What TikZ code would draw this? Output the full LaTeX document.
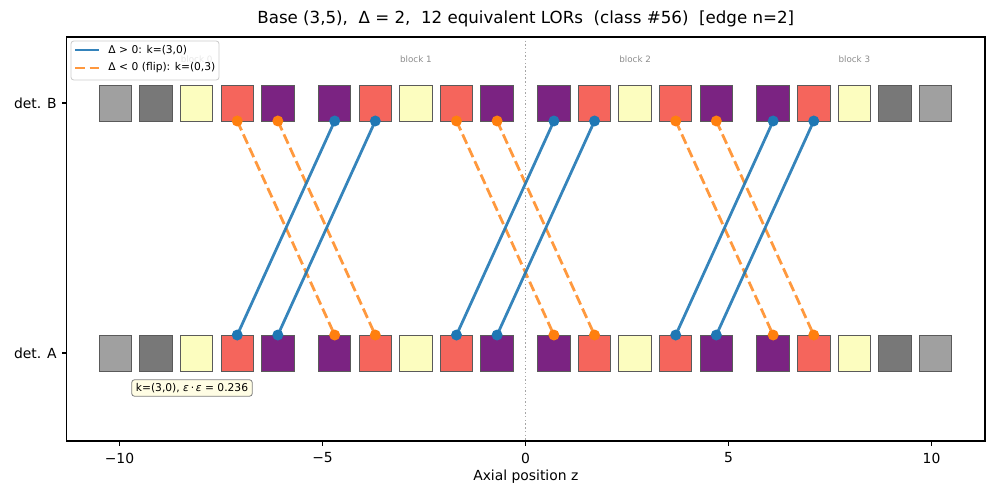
\documentclass[tikz,border=0pt]{standalone}
\usepackage{fontspec}
\setmainfont{DejaVu Sans}
\definecolor{lg}{HTML}{A0A0A0}
\definecolor{dg}{HTML}{787878}
\definecolor{cy}{HTML}{FCFDBF}
\definecolor{cs}{HTML}{F5655C}
\definecolor{cp}{HTML}{7B2382}
\definecolor{edgegray}{HTML}{5A5A5A}
\definecolor{mblue}{HTML}{1F77B4}
\definecolor{morange}{HTML}{FF7F0E}
\definecolor{annofill}{HTML}{FFFDE4}
\begin{document}
\begin{tikzpicture}[x=0.72pt,y=-0.72pt,
  crystal/.style={draw=edgegray, line width=0.7pt, minimum width=23.4pt, minimum height=25.9pt, inner sep=0pt, outer sep=0pt},
  lorpos/.style={mblue, opacity=0.9, line width=2pt},
  lorneg/.style={morange, opacity=0.8, line width=2pt, dash pattern=on 7.4pt off 3.2pt},
  dotpos/.style={fill=mblue},
  dotneg/.style={fill=morange},
  blocklabel/.style={text=gray!90, font=\fontsize{6.3}{7}\selectfont, inner sep=0pt},
  ticklabel/.style={font=\fontsize{10}{12}\selectfont, inner sep=0pt},
  legtext/.style={font=\fontsize{7.7}{9}\selectfont, inner sep=0pt, anchor=west},
  tickmark/.style={line width=0.8pt}]
\useasboundingbox (0,0) rectangle (1000,500);
% vertical dotted zero line
\coordinate (zt) at (525.5,37);
\coordinate (zb) at (525.5,441);
\draw[gray!70, line width=1pt, dash pattern=on 1pt off 1.65pt] (zt) -- (zb);
% crystals
\foreach \i/\col in {0/lg,1/dg,2/cy,3/cs,4/cp,5/cp,6/cs,7/cy,8/cs,9/cp,10/cp,11/cs,12/cy,13/cs,14/cp,15/cp,16/cs,17/cy,18/dg,19/lg}{
  \pgfmathtruncatemacro\bk{int(\i/5)}
  \pgfmathtruncatemacro\cc{\i-5*\bk}
  \pgfmathsetmacro\px{525.5+40.6*(-10.1+5.4*\bk+\cc)}
  \node[crystal, fill=\col] (B\i) at (\px,103) {};
  \node[crystal, fill=\col] (A\i) at (\px,353) {};
}
% block labels
\foreach \bk in {0,1,2,3}{
  \pgfmathsetmacro\px{525.5+40.6*(-8.1+5.4*\bk)}
  \node[blocklabel] (blk\bk) at (\px,59) {block \bk};
}
% LORs with Delta < 0 (flip)
\foreach \a/\b in {3/5,4/6,8/10,9/11,13/15,14/16}{
  \draw[lorneg] (B\a.south) -- (A\b.north);
  \fill[dotneg] (B\a.south) circle (5.5);
  \fill[dotneg] (A\b.north) circle (5.5);
}
% LORs with Delta > 0
\foreach \a/\b in {3/5,4/6,8/10,9/11,13/15,14/16}{
  \draw[lorpos] (A\a.north) -- (B\b.south);
  \fill[dotpos] (A\a.north) circle (5.5);
  \fill[dotpos] (B\b.south) circle (5.5);
}
% axes frame
\draw[line width=0.8pt] (66.5,37) rectangle (985,441);
% x ticks
\foreach \v/\lab in {-10/−10,-5/−5,0/0,5/5,10/10}{
  \pgfmathsetmacro\px{525.5+40.6*\v}
  \draw[tickmark] (\px,441) -- (\px,446);
  \node[ticklabel] (xt\v) at (\px,458) {\lab};
}
% y ticks
\draw[tickmark] (66.5,103) -- (61.5,103);
\draw[tickmark] (66.5,353) -- (61.5,353);
\node[ticklabel, anchor=east] (ytB) at (57,103) {det. B};
\node[ticklabel, anchor=east] (ytA) at (57,353) {det. A};
% labels
\node[ticklabel] (xlabel) at (525.8,477) {Axial position z};
\node[font=\fontsize{12}{14}\selectfont, inner sep=0pt] (title) at (525.8,19) {Base (3,5),\ \ Δ = 2,\ \ 12 equivalent LORs\ \ (class \#56)\ \ [edge n=2]};
% legend
\draw[draw=black!20, fill=white, fill opacity=0.8, rounded corners=2pt, line width=0.6pt] (71,41) rectangle (219,80);
\coordinate (lp1a) at (75,50); \coordinate (lp1b) at (99,50);
\coordinate (lp2a) at (75,68); \coordinate (lp2b) at (99,68);
\draw[lorpos] (lp1a) -- (lp1b);
\draw[lorneg] (lp2a) -- (lp2b);
\node[legtext] (leg1) at (108,50) {Δ\,\,>\,\,0: k=(3,0)};
\node[legtext] (leg2) at (108,68) {Δ\,\,<\,\,0 (flip): k=(0,3)};
% annotation
\node[draw=gray, fill=annofill, rounded corners=2pt, line width=0.6pt, font=\fontsize{7.7}{9}\selectfont, inner xsep=3pt, inner ysep=2.5pt] (anno) at (192,388) {k=(3,0), {\itshape ε}\,·\,{\itshape ε} = 0.236};
\end{tikzpicture}
\end{document}
